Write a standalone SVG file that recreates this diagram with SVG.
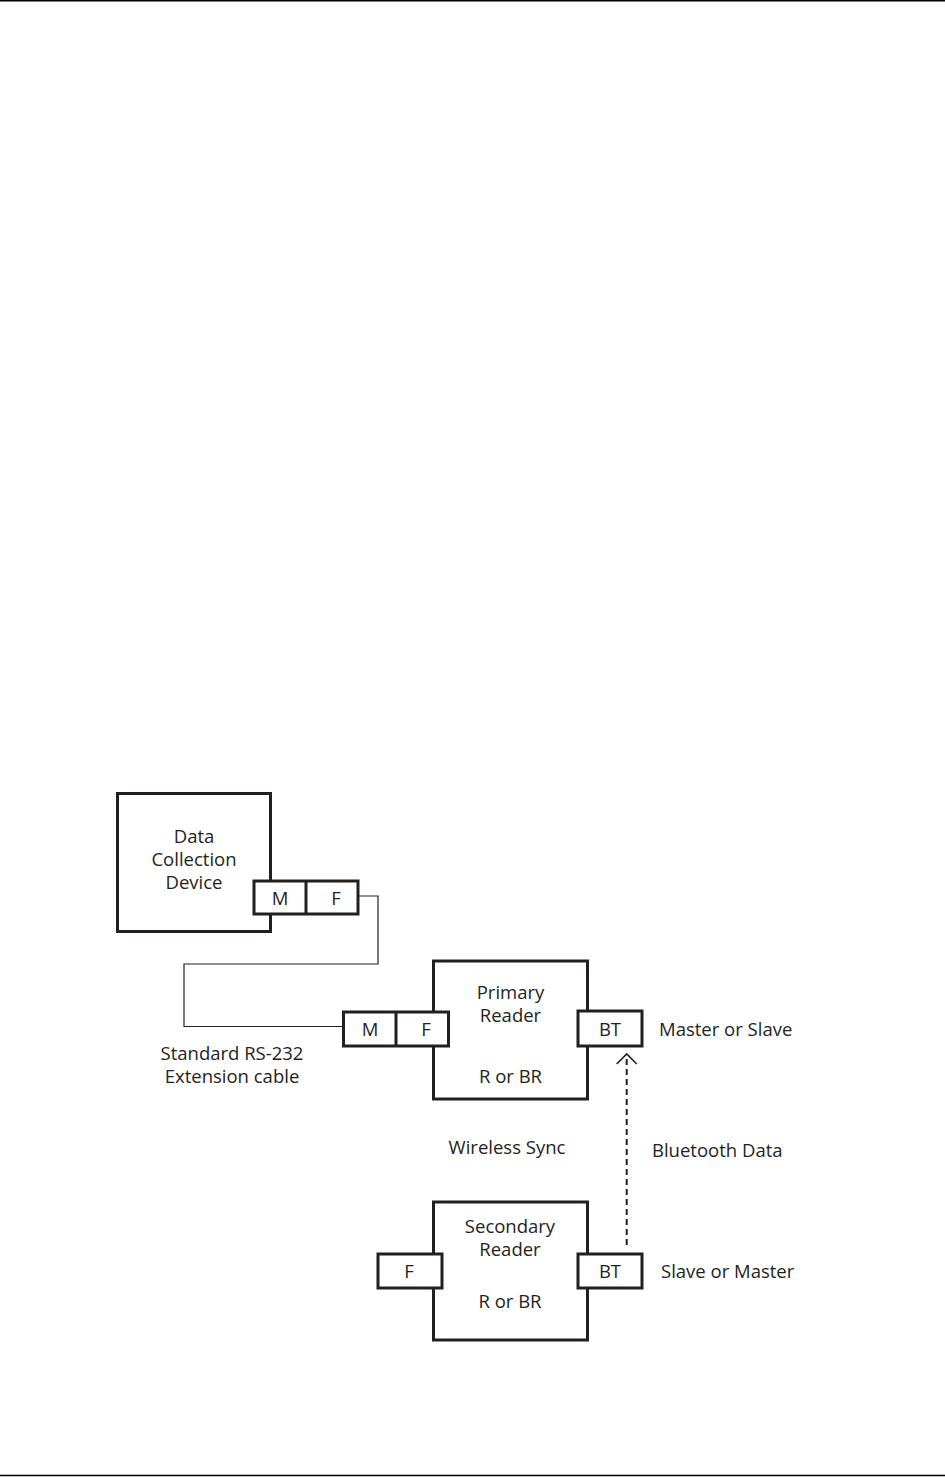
<svg xmlns="http://www.w3.org/2000/svg" width="945" height="1477" viewBox="0 0 945 1477">
<style>
.box{fill:#fff;stroke:#231f20;stroke-width:3}
.t{font-family:"Open Sans","Noto Sans","DejaVu Sans",sans-serif;font-size:18.5px;fill:#231f20}
.c{text-anchor:middle}
.cable{fill:none;stroke:#231f20;stroke-width:1.2}
</style>
<defs>
<marker id="open" markerWidth="24" markerHeight="24" refX="11" refY="11" orient="auto" markerUnits="userSpaceOnUse" viewBox="0 0 24 24">
<path d="M1,1 L11,11 L1,21" fill="none" stroke="#231f20" stroke-width="1.6"/>
</marker>
</defs>
<rect width="945" height="1477" fill="#fff"/>
<line x1="0" y1="0.8" x2="945" y2="0.8" stroke="#000" stroke-width="1.6"/>
<line x1="0" y1="1475.5" x2="945" y2="1475.5" stroke="#000" stroke-width="1.6"/>
<g id="connectors">
<polyline class="cable" points="358,896 378,896 378,964 184,964 184,1026.5 343,1026.5"/>
<line x1="626.7" y1="1245" x2="626.7" y2="1054" stroke="#231f20" stroke-width="2" stroke-dasharray="6,4" marker-end="url(#open)"/>
</g>
<g id="dcd">
<rect class="box" x="117.5" y="793.5" width="153" height="138"/>
<text class="t c" x="194" y="843">Data</text>
<text class="t c" x="194" y="866">Collection</text>
<text class="t c" x="194" y="889">Device</text>
</g>
<g id="dcd-connector">
<rect class="box" x="254" y="881" width="104" height="33"/>
<line x1="306" y1="881" x2="306" y2="914" stroke="#231f20" stroke-width="3"/>
<text class="t c" x="280" y="905">M</text>
<text class="t c" x="336" y="905">F</text>
</g>
<g id="cable-label">
<text class="t c" x="232" y="1059.5">Standard RS-232</text>
<text class="t c" x="232" y="1082.5">Extension cable</text>
</g>
<g id="primary">
<rect class="box" x="433.5" y="961" width="154" height="138"/>
<text class="t c" x="510.5" y="998.5">Primary</text>
<text class="t c" x="510.5" y="1021.5">Reader</text>
<text class="t c" x="510.5" y="1083">R or BR</text>
</g>
<g id="primary-cable-connector">
<rect class="box" x="343.5" y="1012" width="105" height="34"/>
<line x1="396" y1="1012" x2="396" y2="1046" stroke="#231f20" stroke-width="3"/>
<text class="t c" x="370" y="1036">M</text>
<text class="t c" x="426" y="1036">F</text>
</g>
<g id="primary-bt">
<rect class="box" x="578" y="1011" width="64" height="35"/>
<text class="t c" x="610" y="1036">BT</text>
<text class="t" x="659" y="1036">Master or Slave</text>
</g>
<g id="labels">
<text class="t c" x="507" y="1154">Wireless Sync</text>
<text class="t" x="652" y="1157">Bluetooth Data</text>
</g>
<g id="secondary">
<rect class="box" x="433.5" y="1202" width="154" height="138"/>
<text class="t c" x="510" y="1232.5">Secondary</text>
<text class="t c" x="510" y="1255.5">Reader</text>
<text class="t c" x="510" y="1308">R or BR</text>
</g>
<g id="secondary-f">
<rect class="box" x="378" y="1254" width="64" height="34"/>
<text class="t c" x="409" y="1278">F</text>
</g>
<g id="secondary-bt">
<rect class="box" x="578" y="1254" width="64" height="34"/>
<text class="t c" x="610" y="1278">BT</text>
<text class="t" x="661" y="1278">Slave or Master</text>
</g>
</svg>
